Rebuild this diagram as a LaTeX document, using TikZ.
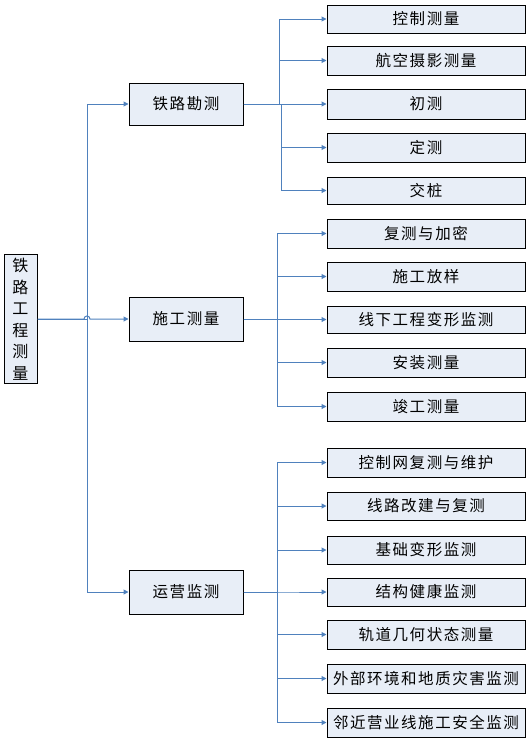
\documentclass[tikz,border=0pt]{standalone}
\usepackage{fontspec}
\newfontfamily\cjk[LetterSpace=10]{Noto Sans CJK SC}
\usetikzlibrary{arrows.meta}
\definecolor{lineblue}{RGB}{79,129,189}
\definecolor{boxfill}{RGB}{232,238,247}
\newcommand\leafbox[4]{\node[box,minimum width=198pt,minimum height={(#3-#2)*1pt}] (#1) at (426,{(#2+#3)/2}) {#4};}
\begin{document}
\begin{tikzpicture}[x=1pt,y=-1pt,
 box/.style={draw=black,fill=boxfill,line width=1pt,inner sep=0pt,font=\cjk\fontsize{15.5}{16}\selectfont},
 conn/.style={draw=lineblue,line width=1pt},
 arr/.style={conn,-{Triangle[length=5pt,width=5pt]}}]
\useasboundingbox (0,0) rectangle (531,739);
% root
\node[box,minimum width=33pt,minimum height=129pt,align=center,font=\cjk\fontsize{16}{21.5}\selectfont] (root) at (20.5,319) {铁\\路\\工\\程\\测\\量};
% level 1
\node[box,minimum width=114pt,minimum height=42pt] (la) at (186,104) {铁路勘测};
\node[box,minimum width=114pt,minimum height=44pt] (lb) at (186,319) {施工测量};
\node[box,minimum width=114pt,minimum height=44pt] (lc) at (186,592) {运营监测};
% level 2
\leafbox{a1}{5}{33}{控制测量}
\leafbox{a2}{46}{75}{航空摄影测量}
\leafbox{a3}{89}{119}{初测}
\leafbox{a4}{133}{162}{定测}
\leafbox{a5}{177}{204}{交桩}
\leafbox{b1}{219}{248}{复测与加密}
\leafbox{b2}{262}{291}{施工放样}
\leafbox{b3}{306}{333}{线下工程变形监测}
\leafbox{b4}{348}{377}{安装测量}
\leafbox{b5}{392}{421}{竣工测量}
\leafbox{c1}{448}{477}{控制网复测与维护}
\leafbox{c2}{492}{520}{线路改建与复测}
\leafbox{c3}{536}{564}{基础变形监测}
\leafbox{c4}{578}{606}{结构健康监测}
\leafbox{c5}{620}{649}{轨道几何状态测量}
\leafbox{c6}{664}{693}{外部环境和地质灾害监测}
\leafbox{c7}{708}{737}{邻近营业线施工安全监测}
% root connectors
\coordinate (j0) at (87,319);
\coordinate (h1) at (84,319);
\coordinate (h2) at (90,319);
\draw[arr] (root.east) -- (j0) |- (la.west);
\draw[arr] (root.east) -- (j0) |- (lc.west);
\draw[arr] (root.east) -- (h1) .. controls (84,315) and (90,315) .. (h2) -- (lb.west);
% group 1
\coordinate (ja) at (279,104);
\coordinate (jb) at (281,104);
\draw[arr] (la.east) -- (ja) |- (a1.west);
\draw[arr] (la.east) -- (ja) |- (a2.west);
\draw[arr] (la.east) -- (a3.west);
\draw[arr] (la.east) -- (jb) |- (a4.west);
\draw[arr] (la.east) -- (jb) |- (a5.west);
% group 2
\coordinate (jc) at (277,319);
\foreach \n in {b1,b2,b3,b4,b5} {\draw[arr] (lb.east) -- (jc) |- (\n.west);}
% group 3
\coordinate (jd) at (277,592);
\foreach \n in {c1,c2,c3,c4,c5,c6,c7} {\draw[arr] (lc.east) -- (jd) |- (\n.west);}
\end{tikzpicture}
\end{document}
